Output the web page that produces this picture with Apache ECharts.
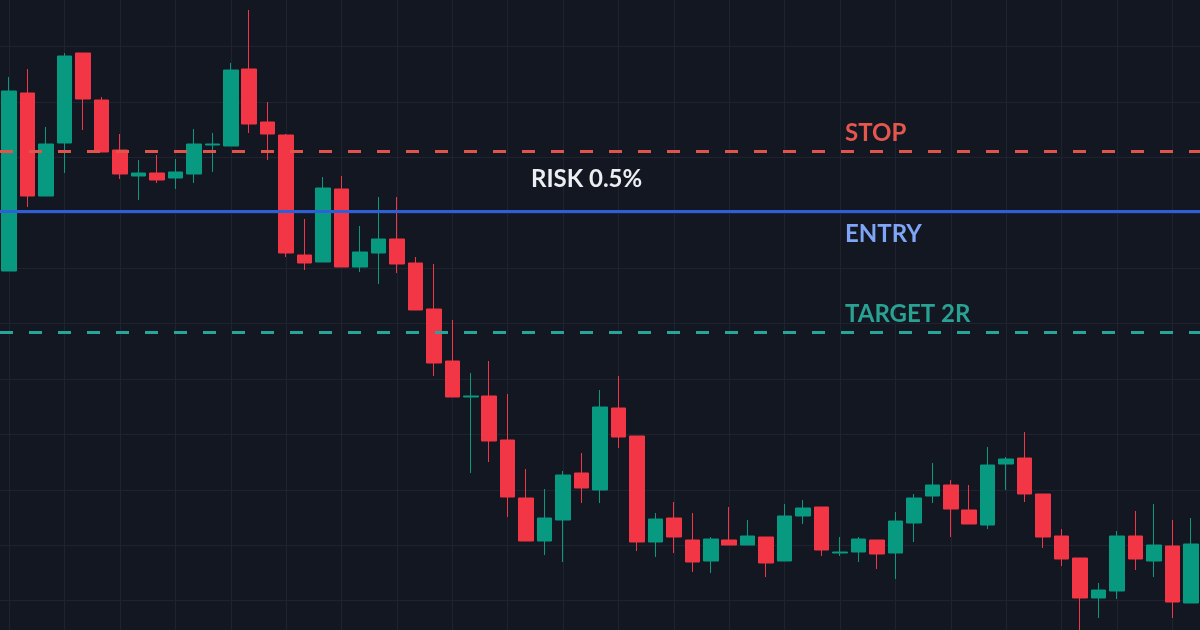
<!DOCTYPE html>
<html>
<head>
<meta charset="utf-8">
<script src="https://cdn.jsdelivr.net/npm/echarts@6/dist/echarts.min.js"></script>
<style>
html,body{margin:0;padding:0;background:#131722;}
#chart{width:1200px;height:630px;}
</style>
</head>
<body>
<div id="chart"></div>
<script>
// price in chart points
const bars = Array.from({length: 65}, (_, i) => String(i + 1));
const opens  = [385,563,460,513,603,556,506,480,483,478,482,511,510,587,534,521,401,394,467,389,403,417,393,347,295,259,260,216,158,115,136,183,166,248,220,114,138,116,95,116,111,119,95,140,149,103,104,116,103,133,160,171,146,131,192,198,162,120,98,58,65,120,95,110,53];
const closes = [565,460,512,600,557,504,482,483,476,484,512,512,586,532,522,403,393,468,389,404,417,392,346,293,259,260,215,159,115,138,181,168,249,219,114,137,119,94,117,111,120,93,140,148,106,104,117,102,135,158,171,147,132,191,197,162,119,97,58,66,120,97,111,54,112];
const lows   = [385,449,460,483,526,504,477,456,473,467,473,484,510,523,496,399,386,394,389,384,372,383,346,280,259,183,194,139,115,101,94,153,153,208,105,99,103,84,83,111,111,79,95,132,100,100,94,87,77,114,153,119,132,127,166,154,108,90,16,38,57,86,79,38,53];
const highs  = [579,587,529,603,603,559,522,496,501,497,527,523,593,646,554,522,437,479,480,430,459,459,399,392,336,283,295,262,187,167,185,203,266,280,220,143,154,143,119,149,136,119,152,156,149,119,119,116,144,162,193,176,171,209,199,224,162,127,98,73,125,145,152,136,138];
const stopLevel = 504.7;
const entryLevel = 444.5;
const targetLevel = 324.1;
const riskText = 'RISK 0.5%';

const ohlc = opens.map((o, i) => [o, closes[i], lows[i], highs[i]]);

const GREEN = '#089981', RED = '#f23645';
const chart = echarts.init(document.getElementById('chart'), null, {renderer: 'canvas'});
const option = {
  backgroundColor: '#131722',
  animation: false,
  grid: {left: 0, right: 0, top: -8.8, height: 664.8, outerBoundsMode: 'none', containLabel: false},
  xAxis: {
    type: 'category', data: bars, boundaryGap: true,
    axisLine: {show: false}, axisTick: {show: false}, axisLabel: {show: false},
    splitLine: {show: true, interval: 2, alignWithLabel: true, lineStyle: {color: '#1f2330', width: 1}}
  },
  yAxis: {
    type: 'value', min: 0, max: 664.8, interval: 55.4, scale: false,
    axisLine: {show: false}, axisTick: {show: false}, axisLabel: {show: false},
    splitLine: {show: true, lineStyle: {color: '#1f2330', width: 1}}
  },
  series: [{
    type: 'candlestick',
    data: ohlc,
    barWidth: 15,
    itemStyle: {color: GREEN, color0: RED, borderColor: GREEN, borderColor0: RED, borderWidth: 1},
    markLine: {
      silent: true, symbol: ['none', 'none'], label: {show: false},
      data: [
        {yAxis: stopLevel, lineStyle: {color: '#e0544c', width: 3, type: [13, 16]}},
        {yAxis: entryLevel, lineStyle: {color: '#2f5fd8', width: 3, type: 'solid'}},
        {yAxis: targetLevel, lineStyle: {color: '#26a69a', width: 3, type: [13, 16]}}
      ]
    }
  }]
};
chart.setOption(option);

const yStop = chart.convertToPixel({yAxisIndex: 0}, stopLevel);
const yEntry = chart.convertToPixel({yAxisIndex: 0}, entryLevel);
const yTarget = chart.convertToPixel({yAxisIndex: 0}, targetLevel);
const font = 'bold 24px Lato';
chart.setOption({
  graphic: [
    {type: 'text', x: 845, y: yStop - 18, style: {text: 'STOP', font: font, fill: '#e5564d', verticalAlign: 'middle'}},
    {type: 'text', x: 845, y: yEntry + 23, style: {text: 'ENTRY', font: font, fill: '#7ea5f6', verticalAlign: 'middle'}},
    {type: 'text', x: 845, y: yTarget - 18, style: {text: 'TARGET 2R', font: font, fill: '#2aa293', verticalAlign: 'middle'}},
    {type: 'text', x: 531, y: (yStop + yEntry) / 2 - 2, style: {text: riskText, font: font, fill: '#eceef2', verticalAlign: 'middle'}}
  ]
});
</script>
</body>
</html>
